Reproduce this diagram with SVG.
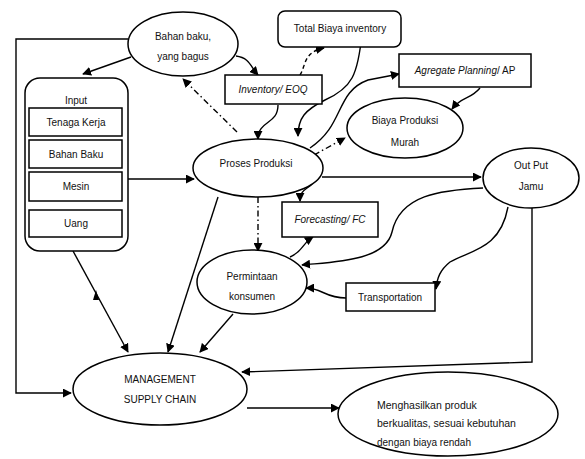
<svg xmlns="http://www.w3.org/2000/svg" width="585" height="459" viewBox="0 0 585 459">
<style>
.sh{fill:#fff;stroke:#000;stroke-width:1.5}
.ln{fill:none;stroke:#000;stroke-width:1.4}
.dd{stroke-dasharray:6 3 1.5 3}
.ds{stroke-dasharray:4 3}
text{font-family:"Liberation Sans",Arial,sans-serif;font-size:10px;fill:#111;text-anchor:middle}
.it{font-style:italic}
.st{text-anchor:start;font-size:10.5px}
</style>
<defs>
<marker id="ah" viewBox="0 0 10 10" refX="9" refY="5" markerWidth="9" markerHeight="9" markerUnits="userSpaceOnUse" orient="auto">
<path d="M0,0 L10,5 L0,10 z" fill="#000"/>
</marker>
</defs>
<rect width="585" height="459" fill="#fff"/>
<g id="connectors">
<polyline class="ln" points="128,39 16,39 16,393 71,393" marker-end="url(#ah)"/>
<line class="ln" x1="131" y1="57" x2="83" y2="74" marker-end="url(#ah)"/>
<line class="ln" x1="128" y1="179" x2="194" y2="179" marker-end="url(#ah)"/>
<line class="ln" x1="322" y1="177" x2="481" y2="177" marker-end="url(#ah)"/>
<path class="ln dd" d="M237,132 L183,79" marker-end="url(#ah)"/>
<path class="ln dd" d="M258,197 L258,251" marker-end="url(#ah)"/>
<path class="ln dd" d="M314,155 L345,138" marker-end="url(#ah)"/>
<path class="ln" d="M236,56 C250,58 250,66 258,75" marker-end="url(#ah)"/>
<path class="ln ds" d="M300,75 C306,66 303,52 324,48" marker-end="url(#ah)"/>
<path class="ln" d="M278,105 C278,125 258,120 258,139" marker-end="url(#ah)"/>
<path class="ln" d="M362,33 C358,75 352,88 325,100 C305,110 298,118 298,136" marker-end="url(#ah)"/>
<path class="ln" d="M310,148 C345,125 335,92 368,80 L399,74" marker-end="url(#ah)"/>
<path class="ln" d="M480,88 C470,100 462,96 452,109" marker-end="url(#ah)"/>
<path class="ln" d="M312,184 C306,190 300,190 300,201" marker-end="url(#ah)"/>
<path class="ln" d="M290,257 C305,250 300,245 313,237" marker-end="url(#ah)"/>
<path class="ln" d="M483,188 C440,190 400,195 392,232 C385,262 330,262 302,265" marker-end="url(#ah)"/>
<path class="ln" d="M508,207 C500,250 470,250 450,262 C440,270 437,278 436,289" marker-end="url(#ah)"/>
<path class="ln" d="M346,298 C325,298 322,288 306,288" marker-end="url(#ah)"/>
<line class="ln" x1="73" y1="251" x2="128" y2="352" marker-end="url(#ah)"/>
<path d="M96,290 L93,300 L99,300 z" fill="#000"/>
<line class="ln" x1="218" y1="197" x2="168" y2="352" marker-end="url(#ah)"/>
<line class="ln" x1="233" y1="314" x2="200" y2="352" marker-end="url(#ah)"/>
<polyline class="ln" points="532,208 532,362 242,372" marker-end="url(#ah)"/>
<line class="ln" x1="247" y1="408" x2="339" y2="408" marker-end="url(#ah)"/>
</g>
<g id="bahan-baku">
<ellipse class="sh" cx="183" cy="44" rx="55" ry="32"/>
<text x="183" y="40">Bahan baku,</text>
<text x="183" y="60">yang  bagus</text>
</g>
<g id="input">
<rect class="sh" x="25" y="78" width="103" height="173" rx="15"/>
<text x="76" y="104">Input</text>
<rect class="sh" x="29" y="108" width="93" height="28"/>
<text x="76" y="126">Tenaga Kerja</text>
<rect class="sh" x="29" y="140" width="93" height="28"/>
<text x="76" y="158">Bahan Baku</text>
<rect class="sh" x="29" y="172" width="93" height="29"/>
<text x="76" y="190">Mesin</text>
<rect class="sh" x="29" y="210" width="93" height="27"/>
<text x="76" y="227">Uang</text>
</g>
<g id="total-biaya">
<rect class="sh" x="278" y="11" width="123" height="36" rx="7"/>
<text x="340" y="32">Total Biaya inventory</text>
</g>
<g id="inventory">
<rect class="sh" x="225" y="75" width="97" height="29"/>
<text class="it" x="273" y="93">Inventory/ EOQ</text>
</g>
<g id="agregate">
<rect class="sh" x="399" y="54" width="132" height="33"/>
<text x="465" y="74"><tspan class="it">Agregate Planning</tspan>/ AP</text>
</g>
<g id="biaya-produksi">
<ellipse class="sh" cx="405" cy="128" rx="58" ry="30"/>
<text x="405" y="124">Biaya Produksi</text>
<text x="405" y="146">Murah</text>
</g>
<g id="proses-produksi">
<ellipse class="sh" cx="258" cy="168" rx="65" ry="29"/>
<text x="256" y="167">Proses Produksi</text>
</g>
<g id="output">
<ellipse class="sh" cx="531" cy="178" rx="48" ry="30"/>
<text x="531" y="169">Out Put</text>
<text x="531" y="190">Jamu</text>
</g>
<g id="forecasting">
<rect class="sh" x="282" y="202" width="96" height="35"/>
<text class="it" x="330" y="223">Forecasting/ FC</text>
</g>
<g id="permintaan">
<ellipse class="sh" cx="252" cy="282" rx="55" ry="32"/>
<text x="252" y="280">Permintaan</text>
<text x="252" y="300">konsumen</text>
</g>
<g id="transportation">
<rect class="sh" x="346" y="283" width="89" height="28"/>
<text x="390" y="301">Transportation</text>
</g>
<g id="management">
<ellipse class="sh" cx="160" cy="389" rx="87" ry="36"/>
<text x="160" y="383">MANAGEMENT</text>
<text x="160" y="403">SUPPLY CHAIN</text>
</g>
<g id="menghasilkan">
<ellipse class="sh" cx="448" cy="414" rx="110" ry="42"/>
<text class="st" x="377" y="409">Menghasilkan produk</text>
<text class="st" x="377" y="427">berkualitas, sesuai kebutuhan</text>
<text class="st" x="377" y="446" style="font-size:10px">dengan biaya rendah</text>
</g>
</svg>
